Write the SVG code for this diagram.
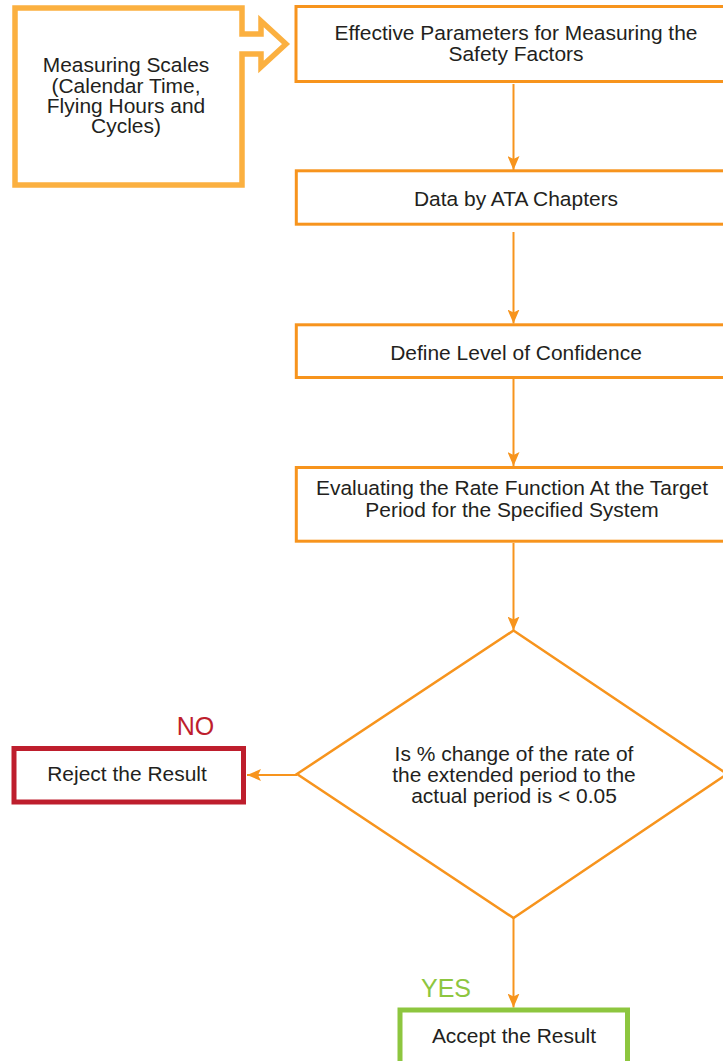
<svg xmlns="http://www.w3.org/2000/svg" width="723" height="1061" viewBox="0 0 723 1061">
<style>
.box{fill:#fff;stroke:#F7941D;stroke-width:3}
.t{font-family:"Liberation Sans",Arial,sans-serif;font-size:19.5px;fill:#231F20;text-anchor:middle}
.con{fill:none;stroke:#F7941D;stroke-width:2}
.lbl{font-family:"Liberation Sans",Arial,sans-serif;font-size:25px;text-anchor:middle}
</style>
<defs>
<marker id="ah" markerUnits="userSpaceOnUse" markerWidth="15" markerHeight="12" refX="14" refY="6" orient="auto" viewBox="0 0 15 12">
<path d="M0,0 L14,6 L0,12 L3,6 Z" fill="#F7941D"/>
</marker>
</defs>
<rect width="723" height="1061" fill="#fff"/>

<g id="connectors">
<line class="con" x1="513.5" y1="84" x2="513.5" y2="170" marker-end="url(#ah)"/>
<line class="con" x1="513.5" y1="232" x2="513.5" y2="323.5" marker-end="url(#ah)"/>
<line class="con" x1="513.5" y1="379" x2="513.5" y2="466" marker-end="url(#ah)"/>
<line class="con" x1="513.5" y1="543" x2="513.5" y2="630.5" marker-end="url(#ah)"/>
<line class="con" x1="297" y1="775" x2="247" y2="775" marker-end="url(#ah)"/>
<line class="con" x1="513.5" y1="918" x2="513.5" y2="1007.5" marker-end="url(#ah)"/>
</g>

<g id="measuring-scales">
<path d="M15,8 H242 V34 H261 V21 L286,44 L261,67 V54 H242 V185 H15 Z" fill="#fff" stroke="#FBB040" stroke-width="5.5"/>
<text class="t" transform="matrix(1.075 0 0 1 126 0)"><tspan x="0" y="72.5">Measuring Scales</tspan><tspan x="0" y="92.8">(Calendar Time,</tspan><tspan x="0" y="113.1">Flying Hours and</tspan><tspan x="0" y="133.4">Cycles)</tspan></text>
</g>

<g id="effective-parameters">
<rect class="box" x="296" y="6.5" width="440" height="75"/>
<text class="t" transform="matrix(1.075 0 0 1 516 0)"><tspan x="0" y="40">Effective Parameters for Measuring the</tspan><tspan x="0" y="61.5">Safety Factors</tspan></text>
</g>

<g id="data-ata">
<rect class="box" x="296.3" y="170.8" width="440" height="53.4"/>
<text class="t" transform="matrix(1.075 0 0 1 516 0)" x="0" y="206">Data by ATA Chapters</text>
</g>

<g id="define-confidence">
<rect class="box" x="296.3" y="324.8" width="440" height="52.7"/>
<text class="t" transform="matrix(1.075 0 0 1 516 0)" x="0" y="360">Define Level of Confidence</text>
</g>

<g id="evaluating">
<rect class="box" x="296.3" y="467.5" width="440" height="73.7"/>
<text class="t" transform="matrix(1.075 0 0 1 512 0)"><tspan x="0" y="495">Evaluating the Rate Function At the Target</tspan><tspan x="0" y="517">Period for the Specified System</tspan></text>
</g>

<g id="decision">
<polygon points="513.5,630.5 727,774 513.5,918 297,774" fill="#fff" stroke="#F7941D" stroke-width="2.5"/>
<text class="t" transform="matrix(1.075 0 0 1 514 0)"><tspan x="0" y="761.5">Is % change of the rate of</tspan><tspan x="0" y="782.3">the extended period to the</tspan><tspan x="0" y="803">actual period is &lt; 0.05</tspan></text>
</g>

<g id="reject">
<rect x="14" y="748.5" width="229.5" height="53.5" fill="#fff" stroke="#BE1E2D" stroke-width="5"/>
<text class="t" transform="matrix(1.075 0 0 1 127 0)" x="0" y="781">Reject the Result</text>
<text class="lbl" x="195.5" y="735" fill="#BE1E2D">NO</text>
</g>

<g id="accept">
<rect x="400" y="1010" width="227.5" height="60" fill="#fff" stroke="#8DC63F" stroke-width="5"/>
<text class="t" transform="matrix(1.075 0 0 1 514 0)" x="0" y="1043">Accept the Result</text>
<text class="lbl" x="446" y="997" fill="#8DC63F">YES</text>
</g>
</svg>
